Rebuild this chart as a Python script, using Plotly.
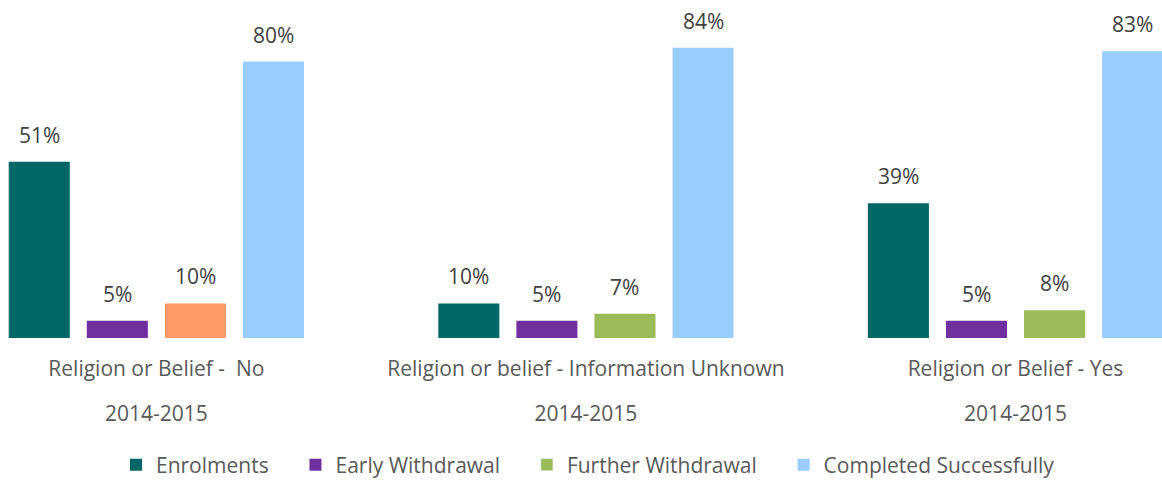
import plotly.graph_objects as go

# Categories (group names on the first axis, year on the second)
groups = ["Religion or Belief -\u00a0\u00a0No", "Religion or belief - Information Unknown", "Religion or Belief - Yes"]
years = ["2014-2015", "2014-2015", "2014-2015"]

# Series values (%)
series_names = ["Enrolments", "Early Withdrawal", "Further Withdrawal", "Completed Successfully"]
enrolments = [51, 10, 39]
early_withdrawal = [5, 5, 5]
further_withdrawal = [10, 7, 8]
completed = [80, 84, 83]

C_ENR = "#006666"
C_EARLY = "#7030A0"
C_FURTHER = "#9BBB59"
C_FURTHER_NO = "#FF9966"
C_COMP = "#99CCFF"

FONT = "Open Sans"
LABEL_COLOR = "#404040"
AXIS_COLOR = "#595959"

BARGAP = 0.273
BARGROUPGAP = 0.218
X_RANGE = [-0.364, 2.341]

x = list(range(len(groups)))
# extra room after each legend entry
LEGEND_PAD = "\u00a0" * 4


def bar(name, values, color, group, showlegend=True):
    return go.Bar(
        name=name,
        x=x,
        y=values,
        offsetgroup=group,
        marker=dict(color=color, line=dict(width=0)),
        showlegend=showlegend,
        hoverinfo="skip",
    )


further_colors = [C_FURTHER_NO, C_FURTHER, C_FURTHER]
all_series = [enrolments, early_withdrawal, further_withdrawal, completed]

fig = go.Figure()
fig.add_trace(bar(series_names[0] + LEGEND_PAD, enrolments, C_ENR, "a"))
fig.add_trace(bar(series_names[1] + LEGEND_PAD, early_withdrawal, C_EARLY, "b"))
fig.add_trace(bar(series_names[2], further_withdrawal, further_colors, "c", showlegend=False))
# legend entry for Further Withdrawal in its series colour
fig.add_trace(go.Bar(name=series_names[2] + LEGEND_PAD, x=[None], y=[None], offsetgroup="c",
                     marker=dict(color=C_FURTHER), hoverinfo="skip"))
fig.add_trace(bar(series_names[3], completed, C_COMP, "d"))
# empty trace that carries the year axis
fig.add_trace(go.Scatter(x=x, y=[0] * len(x), xaxis="x2", mode="none",
                         showlegend=False, hoverinfo="skip"))

# value labels above each bar, centred on the bar's slot within its group
slot = (1 - BARGAP) / len(all_series)
annotations = []
for i, values in enumerate(all_series):
    for g, v in zip(x, values):
        annotations.append(dict(
            x=g + (i - (len(all_series) - 1) / 2) * slot,
            y=v,
            xref="x",
            yref="y",
            text=f"{v}%",
            showarrow=False,
            yanchor="middle",
            yshift=27,
            font=dict(family=FONT, size=21, color=LABEL_COLOR),
        ))

axis_common = dict(
    type="linear",
    tickmode="array",
    tickvals=x,
    range=X_RANGE,
    showline=False,
    showgrid=False,
    zeroline=False,
    ticks="",
    tickfont=dict(family=FONT, size=21, color=AXIS_COLOR),
)

fig.update_layout(
    width=1162,
    height=481,
    margin=dict(l=0, r=0, t=27, b=143, autoexpand=False),
    paper_bgcolor="white",
    plot_bgcolor="white",
    barmode="group",
    bargap=BARGAP,
    bargroupgap=BARGROUPGAP,
    font=dict(family=FONT, size=21, color=AXIS_COLOR),
    annotations=annotations,
    legend=dict(
        orientation="h",
        x=0.506,
        xanchor="center",
        yref="container",
        y=1 - 465 / 481,
        yanchor="middle",
        font=dict(family=FONT, size=21, color=AXIS_COLOR),
        itemwidth=30,
        traceorder="normal",
    ),
    xaxis=dict(ticktext=groups, ticklabelstandoff=16, **axis_common),
    xaxis2=dict(ticktext=years, overlaying="x", side="bottom", anchor="y",
                ticklabelstandoff=61, **axis_common),
    yaxis=dict(
        range=[0, 90],
        visible=False,
        showgrid=False,
        zeroline=False,
    ),
)

fig.write_html("out.html")
